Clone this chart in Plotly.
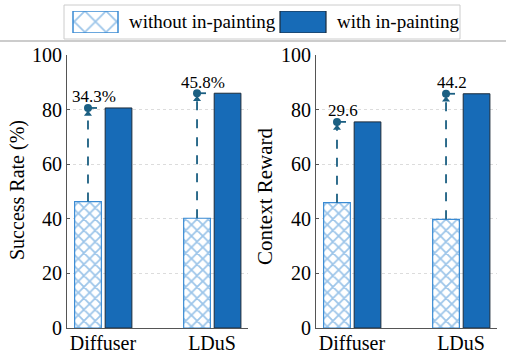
import plotly.graph_objects as go

categories = ["Diffuser", "LDuS"]
sr_without = [46.3, 40.2]
sr_with = [80.6, 86.0]
sr_labels = ["34.3%", "45.8%"]
cr_without = [45.9, 39.8]
cr_with = [75.5, 85.8]
cr_labels = ["29.6", "44.2"]
y_ticks = [0, 20, 40, 60, 80, 100]

W, H = 506, 354
FONT = "Liberation Serif"
HATCH = "#3a8bd4"
SOLID = "#176bb7"
ARROW = "#1b5f82"

OFF_A, OFF_B, BW = -0.26, 0.02, 0.245
xpos = list(range(len(categories)))

fig = go.Figure()

def add_panel(xa, ya, without, with_, labels):
    fig.add_trace(go.Bar(x=xpos, y=without, width=BW, offset=OFF_A,
                         marker=dict(color="white", line=dict(color=HATCH, width=1.2),
                                     pattern=dict(shape="x", fgcolor=HATCH, bgcolor="white",
                                                  size=8, solidity=0.4)),
                         xaxis=xa, yaxis=ya, showlegend=False))
    fig.add_trace(go.Bar(x=xpos, y=with_, width=BW, offset=OFF_B,
                         marker=dict(color=SOLID, line=dict(color="#1c2b3a", width=1)),
                         xaxis=xa, yaxis=ya, showlegend=False))
    for i, (lo, hi, lab) in enumerate(zip(without, with_, labels)):
        xa_c = i + OFF_A + BW / 2
        fig.add_trace(go.Scatter(x=[xa_c, xa_c], y=[lo, hi], mode="lines",
                                 line=dict(color=ARROW, width=1.8, dash="dash"),
                                 xaxis=xa, yaxis=ya, showlegend=False, hoverinfo="skip"))
        fig.add_trace(go.Scatter(x=[xa_c, i + OFF_B], y=[hi, hi], mode="lines",
                                 line=dict(color=ARROW, width=1.8, dash="dash"),
                                 xaxis=xa, yaxis=ya, showlegend=False, hoverinfo="skip"))
        fig.add_trace(go.Scatter(x=[xa_c], y=[hi - 2.2], mode="markers",
                                 marker=dict(symbol="triangle-up", size=7, color=ARROW),
                                 xaxis=xa, yaxis=ya, showlegend=False, hoverinfo="skip"))
        fig.add_trace(go.Scatter(x=[xa_c], y=[hi], mode="markers",
                                 marker=dict(symbol="circle", size=8, color=ARROW),
                                 xaxis=xa, yaxis=ya, showlegend=False, hoverinfo="skip"))
        fig.add_annotation(x=xa_c, y=hi, xref=xa, yref=ya, text=lab, showarrow=False,
                           xshift=6, yshift=11, yanchor="middle",
                           font=dict(family=FONT, size=17, color="black"))

add_panel("x", "y", sr_without, sr_with, sr_labels)
add_panel("x2", "y2", cr_without, cr_with, cr_labels)

# legend swatches (drawn on an overlay axis in pixel units)
fig.add_trace(go.Bar(x=[95.5], y=[1], width=45, base=0,
                     marker=dict(color="white", line=dict(color=HATCH, width=1.5),
                                 pattern=dict(shape="x", fgcolor=HATCH, bgcolor="white",
                                              size=15, solidity=0.22)),
                     xaxis="x3", yaxis="y3", showlegend=False, hoverinfo="skip"))
fig.add_trace(go.Bar(x=[303], y=[1], width=46, base=0,
                     marker=dict(color=SOLID, line=dict(color="#1c2b3a", width=1.2)),
                     xaxis="x3", yaxis="y3", showlegend=False, hoverinfo="skip"))

def px_x(p):
    return p / W

def px_y(p):
    return (H - p) / H

ydom = [px_y(328), px_y(55)]
common_x = dict(range=[-0.33, 1.33], tickmode="array", tickvals=xpos, ticktext=categories,
                showline=True, linecolor="#555", linewidth=1, showgrid=False, zeroline=False,
                ticks="", tickfont=dict(family=FONT, size=20, color="black"), fixedrange=True,
                automargin=False, ticklabelstandoff=-3)
common_y = dict(range=[0, 100], tickvals=y_ticks, showline=True, linecolor="#555", linewidth=1,
                showgrid=True, gridcolor="#dcdcdc", griddash="dot", gridwidth=1, zeroline=False,
                ticks="inside", ticklen=3, tickcolor="#555", automargin=False,
                tickfont=dict(family=FONT, size=20, color="black"), domain=ydom)

fig.update_layout(
    width=W, height=H, margin=dict(l=0, r=0, t=0, b=0, pad=0, autoexpand=False),
    font=dict(family=FONT, color="black"),
    paper_bgcolor="white", plot_bgcolor="white",
    barmode="overlay", showlegend=False,
    xaxis=dict(common_x, domain=[px_x(67), px_x(248)], anchor="y"),
    yaxis=dict(common_y, anchor="x"),
    xaxis2=dict(common_x, domain=[px_x(316), px_x(497)], anchor="y2"),
    yaxis2=dict(common_y, anchor="x2"),
    xaxis3=dict(domain=[0, 1], range=[0, W], visible=False, fixedrange=True, anchor="y3"),
    yaxis3=dict(domain=[px_y(33), px_y(11)], range=[0, 1], visible=False, fixedrange=True, anchor="x3"),
)

# axis titles
fig.add_annotation(x=px_x(17), y=px_y(190), xref="paper", yref="paper",
                   text="Success Rate (%)", textangle=-90, showarrow=False,
                   xanchor="center", yanchor="middle",
                   font=dict(family=FONT, size=20, color="black"))
fig.add_annotation(x=px_x(265), y=px_y(196), xref="paper", yref="paper",
                   text="Context Reward", textangle=-90, showarrow=False,
                   xanchor="center", yanchor="middle",
                   font=dict(family=FONT, size=21, color="black"))

# legend frame, separator and labels
fig.add_shape(type="rect", xref="paper", yref="paper", x0=px_x(64), x1=px_x(460),
              y0=px_y(39), y1=px_y(5), line=dict(color="#cccccc", width=1), fillcolor="rgba(0,0,0,0)")
fig.add_shape(type="line", xref="paper", yref="paper", x0=0, x1=1, y0=px_y(41), y1=px_y(41),
              line=dict(color="#999999", width=1))
fig.add_annotation(x=px_x(127), y=px_y(22), xref="paper", yref="paper", text="without in-painting",
                   xanchor="left", yanchor="middle", showarrow=False,
                   font=dict(family=FONT, size=19, color="black"))
fig.add_annotation(x=px_x(335), y=px_y(22), xref="paper", yref="paper", text="with in-painting",
                   xanchor="left", yanchor="middle", showarrow=False,
                   font=dict(family=FONT, size=19, color="black"))

fig.write_html("out.html")
